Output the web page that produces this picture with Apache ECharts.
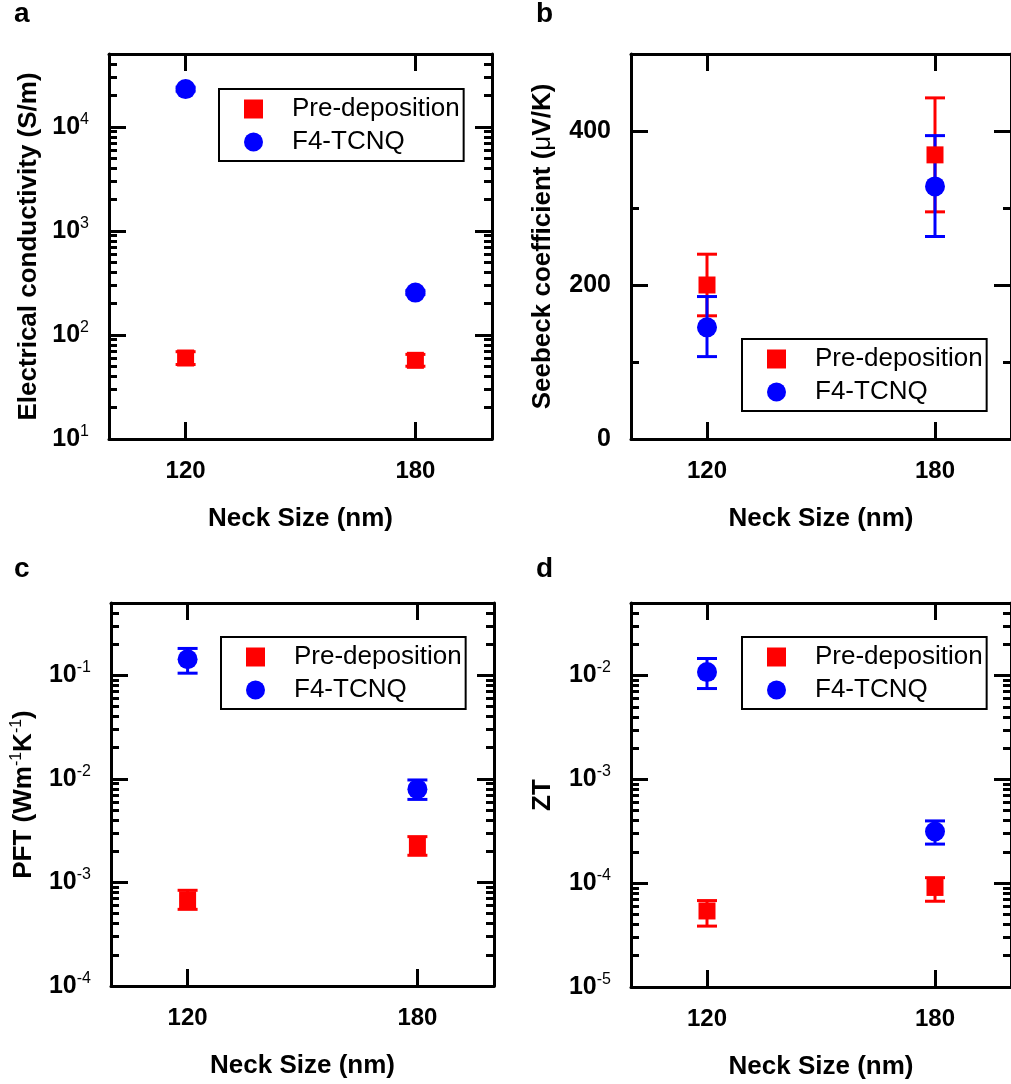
<!DOCTYPE html>
<html><head><meta charset="utf-8">
<script src="https://cdn.jsdelivr.net/npm/echarts@6/dist/echarts.min.js"></script>
<style>html,body{margin:0;padding:0;background:#fff}#c{width:1011px;height:1084px}</style>
</head><body><div id="c"></div>
<script>
// ---------- data ----------
const necks = [120, 180];
const xTicks = [120, 180];
const seriesNames = ['Pre-deposition', 'F4-TCNQ'];

// (a) electrical conductivity (S/m)
const condPre = [60, 57];
const condPreLow = [52, 50];
const condPreHigh = [69, 65];
const condF4 = [23000, 255];
const condF4Low = [22000, 245];
const condF4High = [24000, 266];
const condTicks = [10, 100, 1000, 10000];

// (b) Seebeck coefficient (uV/K)
const seebPre = [200, 369];
const seebPreLow = [160, 295];
const seebPreHigh = [240, 443];
const seebF4 = [145, 328];
const seebF4Low = [107, 263];
const seebF4High = [185, 394];
const seebTicks = [0, 200, 400];
const seebMinorTicks = [100, 300];

// (c) PFT (W m^-1 K^-1)
const pftPre = [6.8e-4, 2.25e-3];
const pftPreLow = [5.5e-4, 1.83e-3];
const pftPreHigh = [8.4e-4, 2.77e-3];
const pftF4 = [0.143, 7.96e-3];
const pftF4Low = [0.105, 6.34e-3];
const pftF4High = [0.182, 9.77e-3];
const pftTicks = [1e-4, 1e-3, 1e-2, 1e-1];

// (d) ZT
const ztPre = [5.4e-5, 9.1e-5];
const ztPreLow = [3.86e-5, 6.7e-5];
const ztPreHigh = [6.8e-5, 1.13e-4];
const ztF4 = [1.08e-2, 3.15e-4];
const ztF4Low = [7.5e-3, 2.38e-4];
const ztF4High = [1.46e-2, 3.98e-4];
const ztTicks = [1e-5, 1e-4, 1e-3, 1e-2];

// ---------- helpers ----------
const FONT = '"Liberation Sans", Arial, Helvetica, sans-serif';
const RED = '#ff0000', BLUE = '#0000ff';

function logMinor(min, max) {
  const out = [];
  for (let n = Math.floor(Math.log10(min)); n <= Math.ceil(Math.log10(max)); n++) {
    for (let k = 2; k <= 9; k++) {
      const v = Number((k * Math.pow(10, n)).toPrecision(6));
      if (v > min && v < max) out.push(v);
    }
  }
  return out;
}
function logLabel(v) {
  const e = Math.round(Math.log10(v));
  return '{b|10}{s|' + e + '}';
}
function errItem(params, api) {
  const x = api.value(0), lo = api.value(1), hi = api.value(2);
  const a = api.coord([x, hi]), b = api.coord([x, lo]);
  const st = {stroke: api.visual('color'), lineWidth: 3, fill: null};
  const w = 10;
  return {type: 'group', children: [
    {type: 'line', shape: {x1: a[0], y1: a[1], x2: b[0], y2: b[1]}, style: st},
    {type: 'line', shape: {x1: a[0] - w, y1: a[1], x2: a[0] + w, y2: a[1]}, style: st},
    {type: 'line', shape: {x1: b[0] - w, y1: b[1], x2: b[0] + w, y2: b[1]}, style: st}
  ]};
}

const panels = [
  {grid: {left: 109, top: 54, width: 383, height: 385}, log: true, min: 10, max: 50000,
   major: condTicks, minor: logMinor(10, 50000),
   name: 'Electrical conductivity (S/m)', nameGap: 67,
   pre: [condPre, condPreLow, condPreHigh], f4: [condF4, condF4Low, condF4High],
   legend: {left: 219, top: 89}, tag: 'a', tagPos: {left: 14, top: 0}},
  {grid: {left: 631, top: 54, width: 383, height: 385}, log: false, min: 0, max: 500,
   major: seebTicks, minor: seebMinorTicks,
   name: '{n|Seebeck coefficient (}{m|μ}{n|V/K)}', nameGap: 73,
   pre: [seebPre, seebPreLow, seebPreHigh], f4: [seebF4, seebF4Low, seebF4High],
   legend: {left: 742, top: 339}, tag: 'b', tagPos: {left: 536, top: 0}},
  {grid: {left: 111, top: 603, width: 383, height: 383}, log: true, min: 1e-4, max: 0.5,
   major: pftTicks, minor: logMinor(1e-4, 0.5),
   name: '{n|PFT (Wm}{s|-1}{n|K}{s|-1}{n|)}', nameGap: 72,
   pre: [pftPre, pftPreLow, pftPreHigh], f4: [pftF4, pftF4Low, pftF4High],
   legend: {left: 221, top: 637}, tag: 'c', tagPos: {left: 14, top: 555}},
  {grid: {left: 631, top: 603, width: 383, height: 384}, log: true, min: 1e-5, max: 0.05,
   major: ztTicks, minor: logMinor(1e-5, 0.05),
   name: 'ZT', nameGap: 75,
   pre: [ztPre, ztPreLow, ztPreHigh], f4: [ztF4, ztF4Low, ztF4High],
   legend: {left: 742, top: 637}, tag: 'd', tagPos: {left: 536, top: 555}}
];

const grids = [], xAxes = [], yAxes = [], series = [], legends = [], titles = [];
const lineStyle = {color: '#000', width: 3};
const tickRich = {
  b: {fontSize: 25, fontWeight: 'bold', fontFamily: FONT, color: '#000', lineHeight: 31, verticalAlign: 'middle'},
  s: {fontSize: 16, fontWeight: 'normal', fontFamily: FONT, color: '#000', lineHeight: 16, verticalAlign: 'top'}
};
const nameRich = {
  n: {fontSize: 26, fontWeight: 'bold', fontFamily: FONT, color: '#000', lineHeight: 30, verticalAlign: 'middle'},
  m: {fontSize: 26, fontWeight: 'normal', fontFamily: FONT, color: '#000', lineHeight: 30, verticalAlign: 'middle'},
  s: {fontSize: 16, fontWeight: 'normal', fontFamily: FONT, color: '#000', lineHeight: 16, verticalAlign: 'top'}
};

panels.forEach((p, i) => {
  grids.push(Object.assign({containLabel: false}, p.grid));
  const xBase = {gridIndex: i, type: 'value', min: 100, max: 200, splitLine: {show: false},
    axisLine: {show: true, onZero: false, lineStyle}};
  xAxes.push(Object.assign({}, xBase, {position: 'bottom',
    axisTick: {inside: true, length: 17, lineStyle, customValues: xTicks},
    axisLabel: {customValues: xTicks, margin: 20, fontSize: 24, fontWeight: 'bold', fontFamily: FONT, color: '#000'},
    name: 'Neck Size (nm)', nameLocation: 'middle', nameGap: 67,
    nameTextStyle: {fontSize: 26, fontWeight: 'bold', fontFamily: FONT, color: '#000'}}));
  xAxes.push(Object.assign({}, xBase, {position: 'top',
    axisTick: {inside: true, length: 17, lineStyle, customValues: xTicks},
    axisLabel: {show: false}}));

  const yBase = {gridIndex: i, type: p.log ? 'log' : 'value', logBase: 10, min: p.min, max: p.max,
    splitLine: {show: false}};
  yAxes.push(Object.assign({}, yBase, {position: 'left',
    axisLine: {show: true, onZero: false, lineStyle},
    axisTick: {inside: true, length: 17, lineStyle, customValues: p.major},
    axisLabel: p.log
      ? {customValues: p.major, margin: 20, formatter: logLabel, rich: tickRich}
      : {customValues: p.major, margin: 20, fontSize: 25, fontWeight: 'bold', fontFamily: FONT, color: '#000'},
    name: p.name, nameLocation: 'middle', nameGap: p.nameGap,
    nameTextStyle: {fontSize: 26, fontWeight: 'bold', fontFamily: FONT, color: '#000', rich: nameRich}}));
  yAxes.push(Object.assign({}, yBase, {position: 'left',
    axisLine: {show: false}, axisLabel: {show: false},
    axisTick: {inside: true, length: 8, lineStyle, customValues: p.minor}}));
  yAxes.push(Object.assign({}, yBase, {position: 'right',
    axisLine: {show: true, onZero: false, lineStyle}, axisLabel: {show: false},
    axisTick: {inside: true, length: 17, lineStyle, customValues: p.major}}));
  yAxes.push(Object.assign({}, yBase, {position: 'right',
    axisLine: {show: false}, axisLabel: {show: false},
    axisTick: {inside: true, length: 8, lineStyle, customValues: p.minor}}));

  const xi = 2 * i, yi = 4 * i;
  [[p.pre, RED, 'rect', 17, seriesNames[0]], [p.f4, BLUE, 'circle', 20, seriesNames[1]]].forEach(([d, col, sym, size, nm]) => {
    series.push({type: 'custom', name: nm, xAxisIndex: xi, yAxisIndex: yi,
      renderItem: errItem, itemStyle: {color: col}, encode: {x: 0, y: [1, 2]},
      data: necks.map((x, k) => [x, d[1][k], d[2][k]]), z: 2, silent: true});
    series.push({type: 'scatter', name: nm, xAxisIndex: xi, yAxisIndex: yi,
      symbol: sym, symbolSize: size, itemStyle: {color: col, opacity: 1},
      data: necks.map((x, k) => [x, d[0][k]]), z: 3, silent: true});
  });

  legends.push({orient: 'vertical', left: p.legend.left, top: p.legend.top,
    borderColor: '#000', borderWidth: 2, borderRadius: 0, backgroundColor: '#fff',
    padding: [7, 4, 6, 25], itemWidth: 19, itemHeight: 19, itemGap: 7,
    selectedMode: false,
    textStyle: {fontSize: 26, fontFamily: FONT, color: '#000', padding: [0, 0, 0, 24]},
    data: [{name: seriesNames[0], icon: 'rect'}, {name: seriesNames[1], icon: 'circle'}]});

  titles.push({text: p.tag, left: p.tagPos.left, top: p.tagPos.top, padding: 0,
    textStyle: {fontSize: 28, fontWeight: 'bold', fontFamily: FONT, color: '#000'}});
});

const chart = echarts.init(document.getElementById('c'), null, {renderer: 'canvas'});
chart.setOption({
  backgroundColor: '#fff',
  animation: false,
  title: titles,
  grid: grids,
  xAxis: xAxes,
  yAxis: yAxes,
  legend: legends,
  series: series
});
</script>
</body></html>
